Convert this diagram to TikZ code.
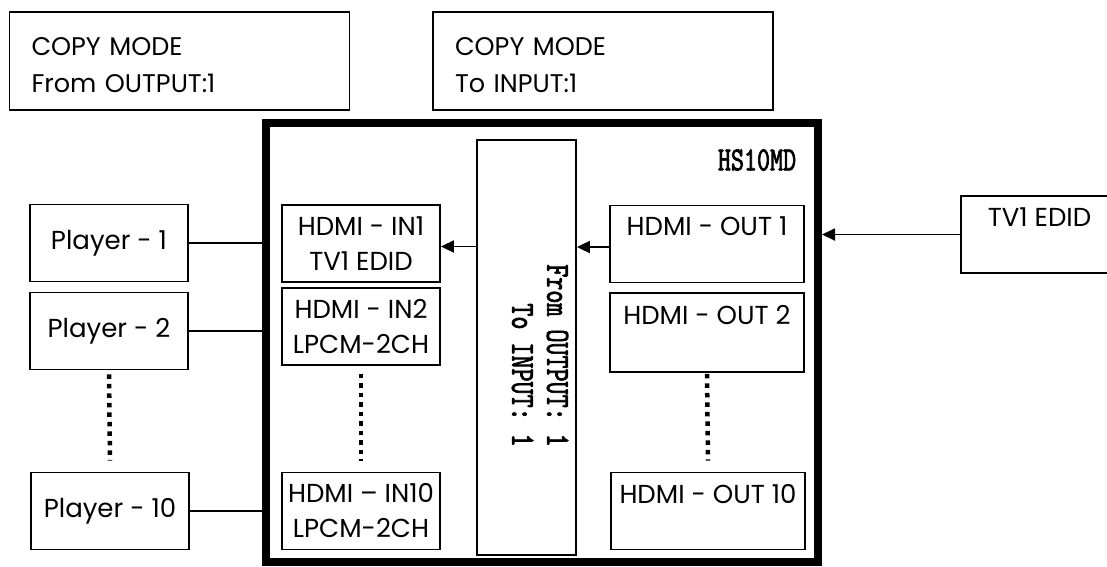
\documentclass[tikz,border=0pt]{standalone}
\usepackage{fontspec}
\setmainfont{Poppins}
\newfontfamily\condmono[FakeStretch=0.73,FakeBold=2]{lmmono10-regular.otf}
\usetikzlibrary{positioning,arrows.meta}

\begin{document}
\begin{tikzpicture}[x=1pt,y=-1pt]
    \useasboundingbox (0,0) rectangle (1107,566);
    \clip (0,0) rectangle (1107,566);
    \begin{scope}[node distance=83pt, on grid, >={Triangle[length=13pt,width=12pt]}, line width=1.8pt, text centered,
    		block/.style={rectangle,draw,line width=1.8pt,inner sep=0pt,minimum width=158pt,minimum height=77pt,
    			font=\fontsize{26}{35}\selectfont,align=center},
    		copybox/.style={rectangle,draw,line width=1.8pt,inner xsep=22pt,inner ysep=0pt,text width=296pt,
    			minimum height=98pt,font=\fontsize{25.5}{37}\selectfont,align=left},
    		dots/.style={line width=4.5pt,dash pattern=on 4.5pt off 5pt},
    		arrow/.style={black, ->}]
    
    % mode display
    \node[copybox](copyfrom) at (179.5,61)
    {\rule{0pt}{27pt}COPY MODE\\From OUTPUT:1};
    \node[copybox](copyto) at (603,61)
    {\rule{0pt}{27pt}COPY MODE\\To INPUT:1};
    
    % switch frame
    \node[rectangle,draw,line width=8pt,inner sep=0pt,minimum width=552.5pt,minimum height=439.5pt](frame) at (541.75,342.25) {};
    \node[anchor=east,inner sep=0pt,font=\condmono\fontsize{34}{34}\selectfont](model) at (797,160)
    {HS10MD};
    \node[rectangle,draw,line width=1.8pt,minimum width=99pt,minimum height=415pt](route) at (526.5,347.5) {};
    \node[rotate=-90,align=right,inner sep=0pt,font=\condmono\fontsize{34}{35}\selectfont](routetxt) at (540,355.5)
    {From OUTPUT: 1\\To INPUT: 1};
    
    % inputs
    \node[block](in1) at (361,243.5)
    {HDMI - IN1\\TV1 EDID};
    \node[block,below=of in1](in2)
    {HDMI - IN2\\LPCM-2CH};
    \node[block](in10) at (361,511)
    {HDMI – IN10\\LPCM-2CH};
    
    % outputs
    \node[block,minimum width=194pt](out1) at (707,244)
    {HDMI - OUT 1\\\phantom{X}};
    \node[block,minimum width=194pt,minimum height=79pt,node distance=88.5pt,below=of out1](out2)
    {HDMI - OUT 2\\\phantom{X}};
    \node[block,minimum width=194pt](out10) at (708,511)
    {HDMI - OUT 10\\\phantom{X}};
    
    % sources and sink
    \node[block](p1) at (109,243)
    {Player - 1};
    \node[block,node distance=88pt,below=of p1](p2)
    {Player - 2};
    \node[block](p10) at (110,511)
    {Player - 10};
    \node[block,minimum width=157pt](tv) at (1039.5,234.5)
    {TV1 EDID\\\phantom{X}};
    
    \draw
    (p1.east) -- (p1.east -| frame.west)
    (p2.east) -- (p2.east -| frame.west)
    (p10.east) -- (p10.east -| frame.west);
    
    \draw[arrow] (tv.west) -- (tv.west -| frame.east);
    \draw[arrow] ([yshift=-3pt]out1.west) -- ([yshift=-3pt]out1.west -| route.east);
    \draw[arrow] ([yshift=-3pt]in1.east -| route.west) -- ([yshift=-3pt]in1.east);
    
    \draw[dots] ([yshift=-4pt]p2.south) -- ([yshift=11pt]p10.north);
    \draw[dots] ([yshift=-8pt]in2.south) -- ([yshift=11pt]in10.north);
    \draw[dots] ([yshift=-1pt]out2.south) -- ([yshift=11pt]out10.north);
    
    \end{scope}
\end{tikzpicture}
\end{document}
